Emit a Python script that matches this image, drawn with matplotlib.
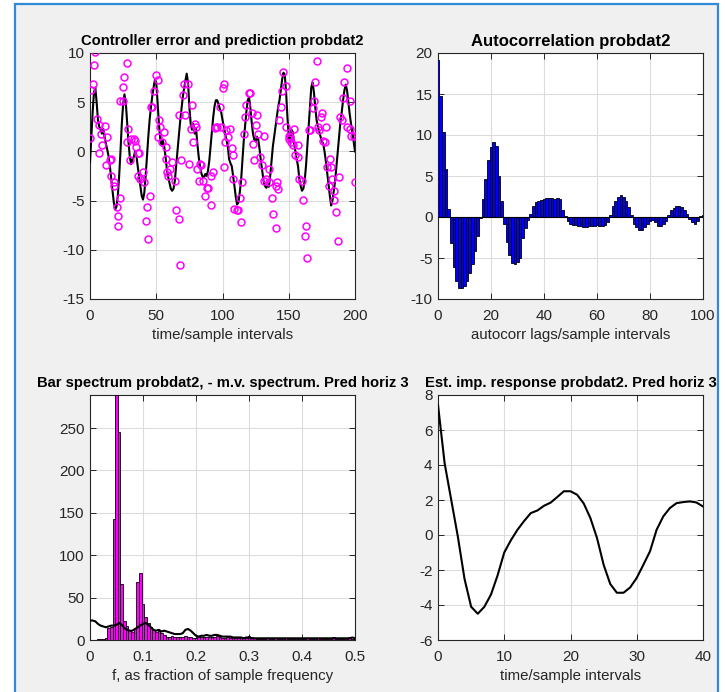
import matplotlib
matplotlib.use("Agg")
import matplotlib.pyplot as plt
from matplotlib.patches import Rectangle
import numpy as np

plt.rcParams['font.family'] = ['Liberation Sans', 'DejaVu Sans']
plt.rcParams['axes.unicode_minus'] = False

# --- controller error (circles) and prediction (line), probdat2 ---
pred_t = list(range(201))
pred_v = [-1.1, 1.5, 4.0, 6.0, 6.5, 5.0, 3.2, 2.5, 2.2, 1.8,
          2.3, 1.5, 0.8, 0.2, -0.5, -1.5, -2.8, -4.0, -5.2, -5.9,
          -5.6, -4.5, -2.5, 0.0, 2.8, 4.8, 5.8, 5.0, 3.0, 1.0,
          -0.5, -1.3, -0.8, -0.6, 0.0, -0.4, -1.5, -2.5, -3.5, -4.5,
          -4.9, -4.2, -2.5, -0.5, 1.5, 3.2, 4.5, 5.6, 6.5, 7.3,
          7.0, 5.0, 2.8, 1.3, 0.6, 1.1, 0.5, -0.5, -1.8, -2.6,
          -3.2, -3.8, -4.0, -3.8, -3.0, -1.5, 0.0, 1.5, 3.0, 4.2,
          5.5, 6.4, 7.2, 7.9, 7.0, 4.5, 2.8, 2.2, 2.8, 1.8,
          2.4, 0.8, -0.5, -1.5, -2.2, -2.6, -2.6, -2.3, -2.5, -2.0,
          -1.0, 0.5, 2.0, 3.5, 4.6, 5.2, 5.2, 4.8, 4.3, 4.0,
          3.2, 2.5, 1.8, 1.2, 0.5, -0.8, -1.2, -1.5, -2.5, -3.5,
          -4.6, -5.4, -5.2, -4.2, -3.0, -1.0, 1.0, 2.5, 4.0, 5.2,
          5.5, 4.5, 3.0, 1.8, 1.2, 1.0, 1.5, 1.2, 0.2, -1.0,
          -2.0, -3.0, -3.5, -3.7, -3.5, -3.6, -2.5, -1.0, 0.5, 1.5,
          2.5, 3.5, 4.5, 5.2, 6.2, 7.3, 8.0, 7.8, 6.0, 3.5,
          1.5, 1.0, 2.2, 2.0, 0.8, 0.0, -0.8, -1.5, -2.8, -3.5,
          -4.0, -3.8, -3.0, -1.5, 0.5, 2.5, 4.5, 6.5, 7.0, 6.0,
          4.5, 3.2, 2.5, 2.0, 1.5, 1.0, 0.8, 0.0, -1.0, -2.2,
          -3.3, -4.5, -5.5, -5.0, -4.0, -3.0, -1.5, 0.0, 1.5, 3.0,
          4.0, 5.2, 6.2, 6.8, 6.2, 5.0, 3.8, 2.8, 2.0, 1.0,
          0.0]

err_t = [0, 1, 2, 3, 4, 5, 7, 7, 8, 9, 11, 12, 13, 15, 16, 16, 18, 18, 20, 21,
         21, 23, 23, 25, 25, 26, 28, 29, 28, 30, 31, 33, 34, 35, 36, 37, 36, 38, 40, 41,
         42, 43, 44, 45, 46, 47, 48, 50, 51, 51, 52, 53, 54, 56, 57, 57, 58, 59, 60, 62,
         64, 65, 67, 67, 68, 69, 70, 71, 72, 74, 75, 76, 77, 78, 79, 80, 81, 82, 83, 84,
         85, 87, 88, 89, 91, 91, 93, 94, 95, 96, 98, 99, 100, 101, 101, 102, 103, 104, 106, 107,
         108, 108, 109, 111, 112, 113, 114, 115, 116, 117, 118, 120, 121, 122, 123, 124, 125, 126, 127, 128,
         130, 131, 131, 133, 135, 135, 137, 138, 140, 140, 141, 142, 143, 144, 145, 146, 148, 148, 150, 150,
         151, 152, 153, 154, 155, 157, 157, 158, 160, 161, 162, 163, 164, 165, 166, 168, 169, 170, 171, 172,
         173, 174, 175, 176, 177, 178, 179, 180, 181, 182, 183, 184, 184, 186, 187, 188, 189, 190, 191, 192,
         194, 194, 196, 196, 197, 199, 200]
err_v = [1.4, 6.2, 6.9, 8.8, 10.1, 3.3, 2.7, -0.2, 1.8, 0.6, 2.6, -1.4, 1.5, -0.9, -0.8, -2.5, -3.1, -3.5, -5.7, -6.6,
         -7.6, -4.7, 5.1, 5.1, 6.5, 7.6, 9.0, 2.3, 1.0, -0.9, 1.3, 1.3, 1.1, 0.4, -0.2, -0.2, -2.5, -2.8, -2.1, -3.1,
         -7.1, -5.7, -8.9, -4.5, 4.5, 4.5, 6.1, 7.8, 7.3, 1.5, 3.2, 2.5, 1.0, 2.0, 0.4, -0.8, -2.1, -2.5, -1.8, -1.1,
         -3.0, -6.0, -6.9, 3.7, -11.5, -0.9, 5.7, 6.8, 3.7, 6.9, -1.3, 2.3, 4.7, 1.0, 2.8, 2.5, -1.8, -3.0, -1.3, -1.4,
         -3.0, -4.5, -3.7, -3.7, -5.4, -2.5, -2.1, 2.4, 2.5, 2.5, 4.5, 2.5, 6.4, 6.9, -1.6, 1.0, 2.2, 1.5, 2.3, 0.3,
         -0.4, -2.8, -5.9, -6.0, -6.0, -4.7, -7.2, -3.1, 1.8, 3.5, 4.7, 5.9, 5.9, 3.9, 0.8, -0.9, 2.7, 3.7, 1.8, -0.6,
         -1.4, 1.6, -3.0, -2.8, -1.8, -3.1, -4.7, -6.4, -7.8, -3.5, -3.1, -3.8, 3.2, 4.5, 6.1, 8.1, 6.6, 2.5, 1.6, 1.3,
         1.5, 1.0, 0.6, 2.3, -0.4, -0.6, 0.6, -2.8, -3.0, -4.9, -8.6, -7.6, -10.8, 2.2, 2.2, 4.4, 5.1, 7.1, 9.2, 2.5,
         2.2, 3.5, 3.9, 1.1, 1.0, 2.5, -1.6, -3.5, -0.8, -1.6, -2.8, -4.0, -4.9, -6.2, -9.1, -2.6, 3.5, 3.2, 5.4, 7.1,
         8.5, 2.5, 5.1, 2.3, 1.6, 1.6, -3.1]

# --- autocorrelation of the error, lags 0..100 ---
lags = list(range(101))
acorr = [19.1, 14.7, 10.4, 5.9, 1.0, -3.2, -6.1, -7.8, -8.7, -8.7,
         -8.4, -7.8, -6.8, -5.7, -4.1, -2.3, -0.1, 2.2, 4.6, 7.0,
         8.5, 9.2, 8.7, 5.0, 1.9, -0.9, -3.1, -4.6, -5.6, -5.7,
         -5.5, -5.0, -2.6, -1.4, -0.4, 0.4, 1.4, 1.8, 2.0, 2.1,
         2.2, 2.3, 2.3, 2.3, 2.2, 2.3, 2.2, 0.8, 0.1, -0.5,
         -0.9, -1.0, -1.0, -1.1, -1.1, -1.2, -1.2, -1.1, -1.1, -1.1,
         -1.0, -1.1, -1.1, -1.0, -0.6, 0.3, 1.4, 1.9, 2.4, 2.7,
         2.5, 2.0, 1.2, 0.2, -0.8, -1.2, -1.6, -1.6, -1.2, -0.8,
         -0.5, -0.4, -0.6, -1.1, -1.1, -0.9, -0.5, 0.2, 0.8, 1.1,
         1.3, 1.3, 1.2, 0.9, 0.4, -0.3, -0.6, -0.8, -0.5, 0.1,
         0.2]

# --- bar spectrum and minimum-variance spectrum ---
freq = [k / 200 for k in range(101)]
bar_spec = [0, 0, 0.5, 1, 1, 1.5, 2, 14, 15, 143,
            289, 245, 66, 22, 17, 12, 10, 14, 68, 79,
            42, 27, 20, 15, 12, 10, 11, 8, 6, 4,
            4, 5, 4, 4, 3, 3, 5, 4, 3, 2,
            2, 3, 4, 3, 4, 3, 4, 3, 5, 3,
            2, 2, 3, 2, 4, 2, 2, 3, 2, 2,
            5, 3, 2, 1, 1, 1, 1, 2, 1, 1,
            2, 1, 1, 1, 2, 1, 1, 1, 1, 1,
            1, 1, 2, 1, 1, 1, 2, 1, 1, 1,
            1, 1, 3, 1, 1, 1, 1, 1, 3, 1,
            2]
mv_spec = [23, 23, 22, 19, 17, 16, 15, 16, 17, 17,
           18, 20, 18, 14, 12, 11, 11, 13, 15, 17,
           19, 20, 18, 15, 12, 11, 12, 10, 11, 10,
           9, 8, 7, 7, 7, 8, 12, 13, 11, 8,
           5, 4, 5, 5, 6, 5, 5, 6, 6, 5,
           4, 4, 4, 4, 3, 3, 3, 3, 2, 3,
           3, 2, 2, 2, 2, 2, 2, 2, 2, 2,
           2, 2, 2, 2, 2, 2, 2, 2, 2, 2,
           2, 2, 2, 2, 2, 2, 2, 2, 2, 2,
           2, 2, 2, 2, 2, 2, 2, 2, 2, 3,
           2]

# --- estimated impulse response ---
imp_t = list(range(41))
imp_v = [7.43, 4.1, 2.0, -0.1, -2.5, -4.1, -4.5, -4.1, -3.4, -2.3,
         -1.0, -0.3, 0.3, 0.8, 1.25, 1.4, 1.67, 1.85, 2.17, 2.5,
         2.5, 2.3, 1.8, 0.97, -0.17, -1.7, -2.8, -3.3, -3.3, -3.0,
         -2.45, -1.7, -0.93, 0.3, 1.06, 1.54, 1.82, 1.88, 1.92, 1.86,
         1.63]

W, H = 725, 692
fig = plt.figure(figsize=(W / 100, H / 100), dpi=100, facecolor='white')

# window panel with blue frame (runs past the lower edge)
fig.patches.append(Rectangle((15 / W, -0.05), (718 - 15) / W, (H - 4) / H + 0.05,
                             transform=fig.transFigure, facecolor='#f0f0f0',
                             edgecolor='#2f8ad8', linewidth=1.6, zorder=-10))

TXT = '#262626'


def make_axes(x0, y0, x1, y1):
    ax = fig.add_axes([x0 / W, 1 - y1 / H, (x1 - x0) / W, (y1 - y0) / H])
    ax.set_zorder(1)
    ax.set_facecolor('white')
    for s in ax.spines.values():
        s.set_color(TXT)
        s.set_linewidth(0.8)
    ax.tick_params(direction='in', top=True, right=True, length=4,
                   width=0.7, color=TXT, labelcolor=TXT, labelsize=11)
    ax.tick_params(axis='x', pad=7)
    ax.tick_params(axis='y', pad=4)
    ax.grid(True, color='#dcdcdc', linewidth=0.8)
    ax.set_axisbelow(True)
    return ax


title_kw = dict(fontsize=10.6, fontweight='bold', color='black', pad=6)
label_kw = dict(fontsize=10.8, color=TXT, labelpad=4)

# top left
ax1 = make_axes(90, 53, 355, 299)
ax1.plot(pred_t, pred_v, color='black', linewidth=1.5, zorder=3)
ax1.plot(err_t, err_v, linestyle='none', marker='o', markersize=5,
         markerfacecolor='none', markeredgecolor='#ff00ff', markeredgewidth=1.1, zorder=4)
ax1.set_xlim(0, 200)
ax1.set_ylim(-15, 10)
ax1.set_xticks([0, 50, 100, 150, 200])
ax1.set_yticks([-15, -10, -5, 0, 5, 10])
ax1.set_title('Controller error and prediction probdat2', **title_kw)
ax1.set_xlabel('time/sample intervals', **label_kw)

# top right
ax2 = make_axes(438, 53, 703, 299)
ax2.bar(lags, acorr, width=1.0, color='#0000ff', edgecolor='black', linewidth=0.6, zorder=3)
ax2.axhline(0, color='black', linewidth=0.8, zorder=4)
ax2.set_xlim(0, 100)
ax2.set_ylim(-10, 20)
ax2.set_xticks([0, 20, 40, 60, 80, 100])
ax2.set_yticks([-10, -5, 0, 5, 10, 15, 20])
ax2.set_title('Autocorrelation probdat2', fontsize=12, fontweight='bold', color='black', pad=5)
ax2.set_xlabel('autocorr lags/sample intervals', **label_kw)

# bottom left
ax3 = make_axes(90, 395, 355, 640)
ax3.bar(freq, bar_spec, width=0.005, color='#ff00ff', edgecolor='black', linewidth=0.6, zorder=3)
ax3.plot(freq, mv_spec, color='black', linewidth=1.5, zorder=4)
ax3.set_xlim(0, 0.5)
ax3.set_ylim(0, max(bar_spec))
ax3.set_xticks([0, 0.1, 0.2, 0.3, 0.4, 0.5])
ax3.set_xticklabels(['0', '0.1', '0.2', '0.3', '0.4', '0.5'])
ax3.set_yticks([0, 50, 100, 150, 200, 250])
ax3.set_title('Bar spectrum probdat2, - m.v. spectrum. Pred horiz 3', **title_kw)
ax3.set_xlabel('f, as fraction of sample frequency', **label_kw)

# bottom right
ax4 = make_axes(438, 395, 703, 640)
ax4.plot(imp_t, imp_v, color='black', linewidth=1.5, zorder=3)
ax4.set_xlim(0, 40)
ax4.set_ylim(-6, 8)
ax4.set_xticks([0, 10, 20, 30, 40])
ax4.set_yticks([-6, -4, -2, 0, 2, 4, 6, 8])
ax4.set_title('Est. imp. response probdat2. Pred horiz 3', **title_kw)
ax4.set_xlabel('time/sample intervals', **label_kw)

fig.savefig('out.png', dpi=100, facecolor='white')
